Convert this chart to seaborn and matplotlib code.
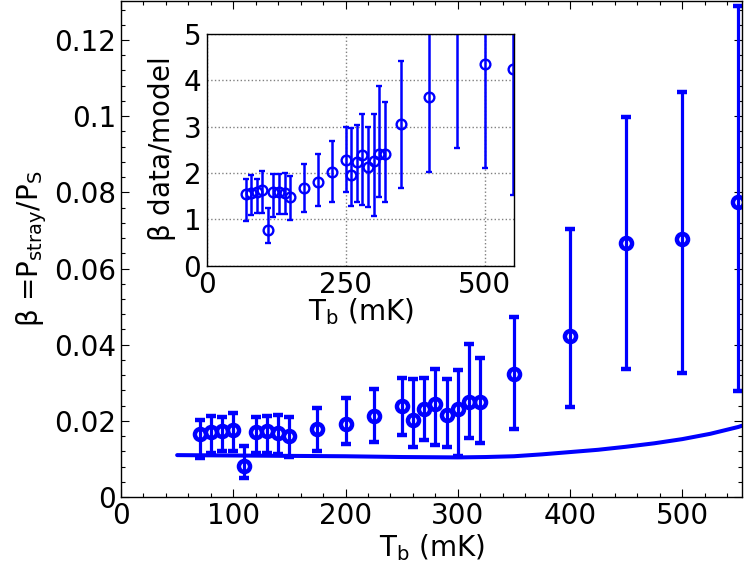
import numpy as np
import pandas as pd
import matplotlib
matplotlib.use("Agg")
import matplotlib.pyplot as plt
import seaborn as sns

# --- data ---
temps = [70, 80, 90, 100, 110, 120, 130, 140, 150, 175, 200, 225, 250,
         260, 270, 280, 290, 300, 310, 320, 350, 400, 450, 500, 550]

# main panel: beta = P_stray / P_S
beta = [0.0165, 0.0170, 0.0174, 0.0177, 0.0081, 0.0171, 0.0174, 0.0168, 0.0161,
        0.0178, 0.0192, 0.0213, 0.0238, 0.0201, 0.0230, 0.0245, 0.0216, 0.0231,
        0.0249, 0.0249, 0.0324, 0.0423, 0.0667, 0.0678, 0.0775]
beta_lo = [0.0103, 0.0116, 0.0122, 0.0122, 0.0050, 0.0116, 0.0116, 0.0113, 0.0104,
           0.0122, 0.0138, 0.0145, 0.0163, 0.0132, 0.0151, 0.0137, 0.0130, 0.0107,
           0.0154, 0.0143, 0.0178, 0.0237, 0.0336, 0.0326, 0.0279]
beta_hi = [0.0203, 0.0213, 0.0211, 0.0220, 0.0135, 0.0211, 0.0213, 0.0216, 0.0209,
           0.0235, 0.0259, 0.0284, 0.0313, 0.0309, 0.0313, 0.0337, 0.0309, 0.0333,
           0.0401, 0.0366, 0.0473, 0.0703, 0.0997, 0.1064, 0.1289]

# model curve
model_t = [50, 100, 150, 200, 250, 300, 325, 350, 375, 400, 425, 450,
           475, 500, 525, 550, 553]
model_beta = [0.0110, 0.0109, 0.0108, 0.0107, 0.0105, 0.0104, 0.0105, 0.0107,
              0.0112, 0.0118, 0.0124, 0.0132, 0.0141, 0.0152, 0.0166, 0.0184, 0.0187]

# inset: beta data / model
ratio = [1.54, 1.56, 1.60, 1.63, 0.77, 1.58, 1.60, 1.56, 1.49, 1.67, 1.81, 2.03,
         2.29, 1.96, 2.23, 2.39, 2.12, 2.26, 2.42, 2.42, 3.05, 3.65, 5.2, 4.35, 4.24]
ratio_lo = [0.96, 1.09, 1.14, 1.14, 0.48, 1.06, 1.12, 1.11, 0.99, 1.15, 1.29, 1.38,
            1.58, 1.29, 1.37, 1.32, 1.27, 1.08, 1.49, 1.38, 1.68, 2.03, 2.53, 2.10, 1.53]
ratio_hi = [1.87, 1.96, 1.88, 2.04, 1.24, 1.97, 1.97, 2.01, 1.94, 2.19, 2.42, 2.69,
            3.00, 2.98, 3.04, 3.27, 3.00, 3.27, 3.88, 3.54, 4.42, 6.0, 7.5, 7.0, 7.5]

main_xticks = [0, 100, 200, 300, 400, 500]
main_yticks = [0, 0.02, 0.04, 0.06, 0.08, 0.1, 0.12]
main_yticklabels = ["0", "0.02", "0.04", "0.06", "0.08", "0.1", "0.12"]
inset_xticks = [0, 250, 500]
inset_yticks = [0, 1, 2, 3, 4, 5]

df = pd.DataFrame({"T": temps, "beta": beta, "lo": beta_lo, "hi": beta_hi,
                   "ratio": ratio, "rlo": ratio_lo, "rhi": ratio_hi})
model_df = pd.DataFrame({"T": model_t, "beta": model_beta})

sns.set_style("ticks")
plt.rcParams["font.family"] = ["DejaVu Sans"]
plt.rcParams["mathtext.default"] = "regular"
plt.rcParams["font.size"] = 20
# plain black text / ticks like the original
for key in ["text.color", "axes.labelcolor", "xtick.color", "ytick.color",
            "axes.edgecolor"]:
    plt.rcParams[key] = "black"

blue = "#0000ff"

fig = plt.figure(figsize=(7.47, 5.83), dpi=100)
ax = fig.add_axes([0.162, 0.1475, 0.831, 0.8505])

# model line
sns.lineplot(data=model_df, x="T", y="beta", ax=ax, color=blue, lw=2.9)

# data with asymmetric error bars
yerr_main = [df["beta"] - df["lo"], df["hi"] - df["beta"]]
ax.errorbar(df["T"], df["beta"], yerr=yerr_main, fmt="o", color=blue,
            mfc="none", mec=blue, ms=8, mew=3.2, elinewidth=2.3,
            capsize=3.8, capthick=2.3)

ax.set_xlim(0, 553)
ax.set_ylim(0, 0.1302)
ax.set_xticks(main_xticks)
ax.set_yticks(main_yticks)
ax.set_yticklabels(main_yticklabels)
ax.set_xticks(np.arange(0, 560, 20), minor=True)
ax.set_yticks(np.arange(0, 0.1302, 0.004), minor=True)
ax.tick_params(which="both", direction="in", top=True, right=True,
               labelsize=20, width=0.8, colors="black")
ax.tick_params(which="major", length=6)
ax.tick_params(which="minor", length=3)
ax.set_xlabel("$T_b$ (mK)", fontsize=20, labelpad=2)
ax.set_ylabel(r"$\beta$ =P$_{stray}$/P$_S$", fontsize=20, labelpad=4)
for sp in ax.spines.values():
    sp.set_linewidth(1.0)
    sp.set_color("black")

# inset
axi = fig.add_axes([0.2767, 0.5443, 0.4118, 0.3974])
yerr_in = [df["ratio"] - df["rlo"], df["rhi"] - df["ratio"]]
axi.errorbar(df["T"], df["ratio"], yerr=yerr_in, fmt="o", color=blue,
             mfc="none", mec=blue, ms=7, mew=1.7, elinewidth=1.8,
             capsize=2.5, capthick=1.6)
axi.set_xlim(0, 553)
axi.set_ylim(0, 5)
axi.set_xticks(inset_xticks)
axi.set_yticks(inset_yticks)
axi.grid(True, linestyle=":", color="gray", lw=1.0)
axi.set_axisbelow(True)
axi.tick_params(which="both", length=0, labelsize=20, pad=4, colors="black")
axi.set_xlabel("$T_b$ (mK)", fontsize=20, labelpad=-2)
axi.set_ylabel(r"$\beta$ data/model", fontsize=20, labelpad=4)
for sp in axi.spines.values():
    sp.set_linewidth(1.0)
    sp.set_color("black")

fig.savefig("out.png", dpi=100)
